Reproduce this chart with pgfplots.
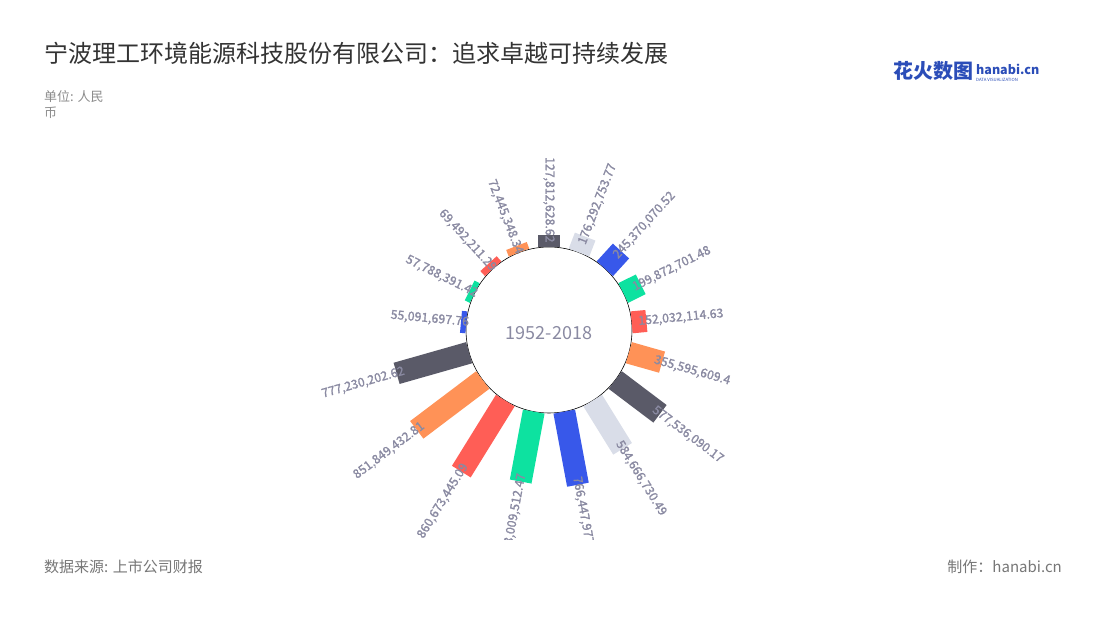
\documentclass[border=0pt]{standalone}
\usepackage{pgfplots}
\pgfplotsset{compat=1.18}
\usepgfplotslibrary{polar}
\usepackage{fontspec}
\setmainfont{Noto Sans CJK SC}
\newfontfamily\labelfont[FakeBold=1.3]{Noto Sans CJK SC}
\definecolor{cdark}{HTML}{5A5A68}
\definecolor{clight}{HTML}{D9DDE8}
\definecolor{cblue}{HTML}{3858EA}
\definecolor{cgreen}{HTML}{0DE2A0}
\definecolor{cred}{HTML}{FF5E56}
\definecolor{corange}{HTML}{FF9257}
\definecolor{clabel}{HTML}{8A8AA2}
\definecolor{ctitle}{HTML}{333333}
\definecolor{cgray}{HTML}{8C8C8C}
\definecolor{clogo}{HTML}{2B4DB8}

% angle, value (millions), colour, label text, rotation, anchor
\newcommand{\rbar}[6]{%
  \addplot[draw=#3, line width=22pt, y filter/.expression={y+856}] coordinates {(#1,0) (#1,#2)};
  \addplot[draw=none, mark=none, y filter/.expression={y+772},
    nodes near coords, point meta=explicit symbolic,
    every node near coord/.append style={rotate=#5, anchor=#6}] coordinates {(#1,#2) [#4]};
}

\begin{document}
\begin{tikzpicture}[x=1pt,y=1pt]
\useasboundingbox[fill=white] (0,0) rectangle (1100,620);
\draw[black, line width=0.6pt, fill=white] (549,290) circle (83);
\begin{scope}
\clip (0,80) rectangle (1100,620);
\begin{polaraxis}[
  at={(549pt,290pt)}, anchor=center,
  width=332pt, height=332pt, scale only axis,
  hide axis, clip=false,
  xmin=0, xmax=360, ymin=0, ymax=1711,
  every node near coord/.style={font=\labelfont\fontsize{12.3}{12.3}\selectfont, text=clabel, inner sep=0pt},
]
\rbar{174.706}{55.09}{cblue}{55,091,697.76}{-5.294}{east}
\rbar{153.529}{57.79}{cgreen}{57,788,391.42}{-26.471}{east}
\rbar{132.353}{69.49}{cred}{69,492,211.29}{-47.647}{east}
\rbar{111.176}{72.45}{corange}{72,445,348.34}{-68.824}{east}
\rbar{90.000}{127.81}{cdark}{127,812,628.62}{-90}{east}
\rbar{68.824}{176.29}{clight}{176,292,753.77}{68.824}{west}
\rbar{47.647}{245.37}{cblue}{245,370,070.52}{47.647}{west}
\rbar{26.471}{199.87}{cgreen}{199,872,701.48}{26.471}{west}
\rbar{5.294}{152.03}{cred}{152,032,114.63}{5.294}{west}
\rbar{344.118}{355.60}{corange}{355,595,609.4}{-15.882}{west}
\rbar{322.941}{577.54}{cdark}{577,536,090.17}{-37.059}{west}
\rbar{301.765}{584.67}{clight}{584,666,730.49}{-58.235}{west}
\rbar{280.588}{766.45}{cblue}{766,447,977.83}{-79.412}{west}
\rbar{259.412}{733.01}{cgreen}{733,009,512.47}{79.412}{east}
\rbar{238.235}{860.67}{cred}{860,673,445.09}{58.235}{east}
\rbar{217.059}{851.85}{corange}{851,849,432.81}{37.059}{east}
\rbar{195.882}{777.23}{cdark}{777,230,202.62}{15.882}{east}
\end{polaraxis}
\end{scope}
\node[text=clabel, font=\fontsize{18}{18}\selectfont] at (549,287) {1952-2018};
\node[anchor=base west, inner sep=0pt, text=ctitle, font=\fontsize{24}{24}\selectfont] at (44,557) {宁波理工环境能源科技股份有限公司：追求卓越可持续发展};
\node[anchor=base west, inner sep=0pt, text=cgray, font=\fontsize{13}{13}\selectfont] at (44,518) {单位: 人民};
\node[anchor=base west, inner sep=0pt, text=cgray, font=\fontsize{13}{13}\selectfont] at (44,502) {币};
\node[anchor=base west, inner sep=0pt, text=cgray!85!black, font=\fontsize{15}{15}\selectfont] at (44,47.5) {数据来源: 上市公司财报};
\node[anchor=base east, inner sep=0pt, text=cgray!85!black, font=\fontsize{15}{15}\selectfont] at (1062,47.5) {制作：hanabi.cn};
\node[anchor=base west, inner sep=0pt, text=clogo, font=\fontsize{20}{20}\selectfont\bfseries] at (893,541) {花火数图};
\node[anchor=base west, inner sep=0pt, text=clogo, font=\fontsize{12.5}{12.5}\selectfont\bfseries] at (976,545) {hanabi.cn};
\node[anchor=base west, inner sep=0pt, text=clogo, font=\fontsize{4.3}{4.3}\selectfont] at (976,538) {DATA VISUALIZATION};
\end{tikzpicture}
\end{document}
